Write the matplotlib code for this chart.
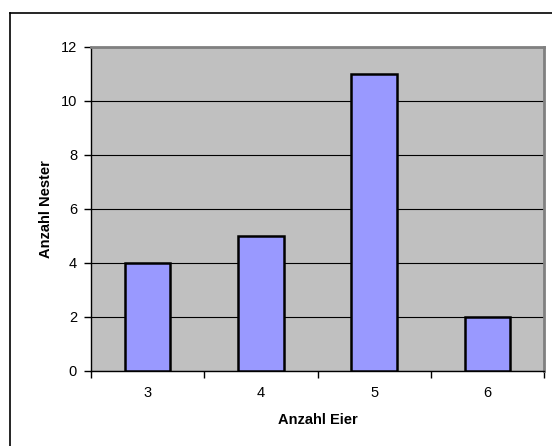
import numpy as np
import matplotlib.pyplot as plt
from matplotlib.lines import Line2D

# Haeufigkeit der Gelegegroessen
eier = ["3", "4", "5", "6"]
nester = [4, 5, 11, 2]
y_ticks = [0, 2, 4, 6, 8, 10, 12]

plt.rcParams["font.family"] = ["Liberation Sans", "DejaVu Sans"]

W, H = 552, 446
fig = plt.figure(figsize=(W / 100, H / 100), dpi=100)

# chart frame (top and left edge)
fig.add_artist(Line2D([10 / W, 10 / W], [0, 1 - 13 / H], color="black", lw=1.2))
fig.add_artist(Line2D([10 / W, 1], [1 - 13 / H, 1 - 13 / H], color="black", lw=1.2))

x0, x1, y0, y1 = 91, 544, 47, 371
ax = fig.add_axes([x0 / W, 1 - y1 / H, (x1 - x0) / W, (y1 - y0) / H])
ax.set_facecolor("#C0C0C0")

x = np.arange(len(eier))
ax.bar(x, nester, width=0.4, color="#9999FF", edgecolor="black", linewidth=1.8, zorder=3)

ax.set_xlim(-0.5, len(eier) - 0.5)
ax.set_ylim(0, 12)
ax.set_yticks(y_ticks)
ax.yaxis.grid(True, color="black", lw=0.8, zorder=1)
ax.set_axisbelow(True)

# category ticks sit between the bars
ax.set_xticks(np.arange(len(eier) + 1) - 0.5)
ax.set_xticklabels([])
ax.set_xticks(x, minor=True)
ax.set_xticklabels(eier, minor=True, fontsize=10.5)
ax.tick_params(axis="x", which="major", length=5, width=1, direction="out")
ax.tick_params(axis="x", which="minor", length=0, pad=11)
ax.tick_params(axis="y", length=5, width=1, direction="out", labelsize=10.5, pad=5)

for side in ["top", "right"]:
    ax.spines[side].set_color("#808080")
    ax.spines[side].set_linewidth(2)
ax.spines["left"].set_linewidth(1)
ax.spines["bottom"].set_linewidth(1)

ax.set_xlabel("Anzahl Eier", fontsize=10.5, fontweight="bold")
ax.set_ylabel("Anzahl Nester", fontsize=10.5, fontweight="bold")
ax.xaxis.set_label_coords(0.5, -(413 - y1) / (y1 - y0))
ax.yaxis.set_label_coords(-(x0 - 53) / (x1 - x0), 0.5)

fig.savefig("out.png", dpi=100)
